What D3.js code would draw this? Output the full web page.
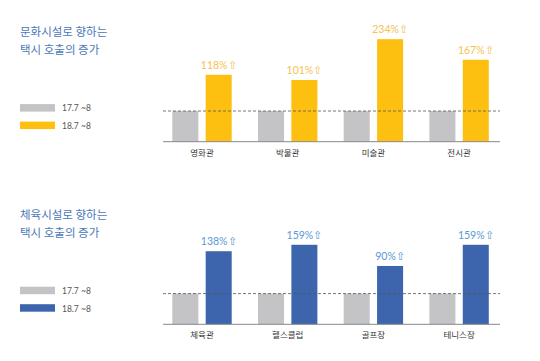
<!DOCTYPE html>
<html><head><meta charset="utf-8">
<script src="https://cdn.jsdelivr.net/npm/d3@7"></script>
<style>body{margin:0;background:#fff;}svg{display:block;font-family:"Noto Sans CJK KR","Lato",sans-serif;}</style>
</head><body>
<svg id="c" width="540" height="361"></svg>
<script>
const legendLabels = ["17.7 ~8", "18.7 ~8"];
const cultureTitle = ["문화시설로 향하는", "택시 호출의 증가"];
const cultureCats = ["영화관", "박물관", "미술관", "전시관"];
const cultureBase = [100, 100, 100, 100];
const cultureIncrease = [118, 101, 234, 167];
const sportsTitle = ["체육시설로 향하는", "택시 호출의 증가"];
const sportsCats = ["체육관", "헬스클럽", "골프장", "테니스장"];
const sportsBase = [100, 100, 100, 100];
const sportsIncrease = [138, 159, 90, 159];

const svg = d3.select("#c");
const GRAY = "#c4c4c6";

function panel(top, title, cats, base, inc, color, textColor, baselineY) {
  const g = svg.append("g");
  g.selectAll("text.title").data(title).enter().append("text")
    .attr("x", 20).attr("y", (d, i) => top + 36 + i * 18)
    .attr("font-size", 11.5).attr("fill", "#4a78b9").text(d => d);
  const legColors = [GRAY, color];
  legendLabels.forEach((l, i) => {
    const ly = baselineY - 37.6 + i * 17.5;
    g.append("rect").attr("x", 20).attr("y", ly).attr("width", 35).attr("height", 7.5).attr("fill", legColors[i]);
    g.append("text").attr("x", 62).attr("y", ly + 7.3).attr("font-size", 8.5).attr("fill", "#555")
      .attr("font-family", "Lato, sans-serif").text(l);
  });
  const x0 = d3.scaleBand().domain(cats).range([146.6, 514.5]).paddingInner(0.307).paddingOuter(0.3);
  const x1 = d3.scaleBand().domain(["a", "b"]).range([0, x0.bandwidth()]).paddingInner(0.22);
  const y = d3.scaleLinear().domain([0, 100]).range([baselineY, baselineY - 30.7]);
  const groups = g.selectAll("g.grp").data(cats).enter().append("g")
    .attr("transform", d => `translate(${x0(d)},0)`);
  groups.append("rect").attr("x", x1("a")).attr("width", x1.bandwidth())
    .attr("y", (d, i) => y(base[i])).attr("height", (d, i) => baselineY - y(base[i])).attr("fill", GRAY);
  groups.append("rect").attr("x", x1("b")).attr("width", x1.bandwidth())
    .attr("y", (d, i) => y(base[i] + inc[i])).attr("height", (d, i) => baselineY - y(base[i] + inc[i])).attr("fill", color);
  groups.append("text").attr("x", x1("b") + x1.bandwidth() / 2)
    .attr("y", (d, i) => y(base[i] + inc[i]) - 6).attr("text-anchor", "middle")
    .attr("font-size", 10.5).attr("fill", textColor).attr("font-family", "Lato, sans-serif")
    .text((d, i) => inc[i] + "%⇧");
  g.append("line").attr("x1", 163).attr("x2", 500).attr("y1", y(100)).attr("y2", y(100))
    .attr("stroke", "#555").attr("stroke-width", 0.8).attr("stroke-dasharray", "3,2");
  const ax = g.append("g").attr("transform", `translate(0,${baselineY})`)
    .call(d3.axisBottom(x0).tickSize(0).tickPadding(8));
  ax.select(".domain").attr("d", "M163,0H500").attr("stroke", "#888");
  ax.selectAll("text").attr("font-size", 8.5).attr("fill", "#333").attr("font-family", "'Noto Sans CJK KR', sans-serif");
}

panel(0, cultureTitle, cultureCats, cultureBase, cultureIncrease, "#fdc010", "#f7bf4f", 141.7);
panel(183, sportsTitle, sportsCats, sportsBase, sportsIncrease, "#3d65ae", "#5a98d2", 324.3);
</script>
</body></html>
